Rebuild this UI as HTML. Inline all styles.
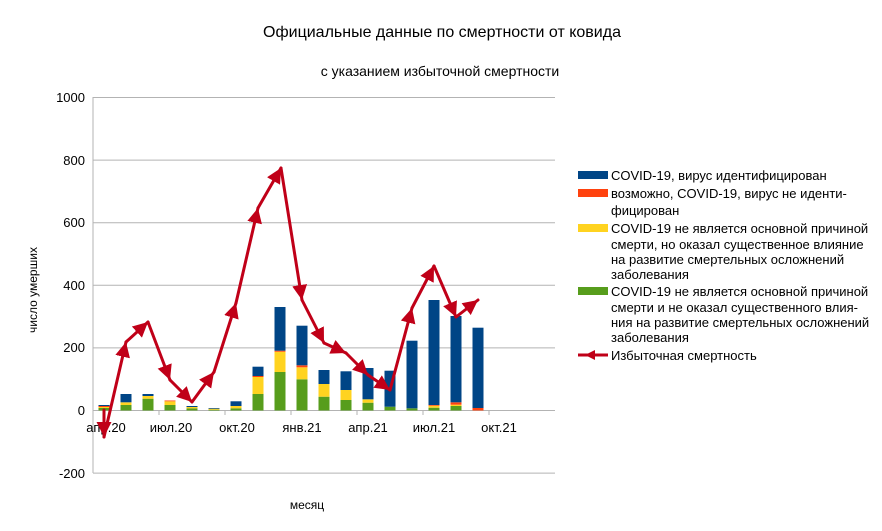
<!DOCTYPE html>
<html><head><meta charset="utf-8"><style>
body{margin:0;background:#fff;}
svg{display:block;font-family:"Liberation Sans",sans-serif;}
</style></head><body>
<svg width="882" height="531" viewBox="0 0 882 531" xmlns="http://www.w3.org/2000/svg">
<defs>
<marker id="a" viewBox="0 0 10 10" refX="10" refY="5" markerWidth="5" markerHeight="5" orient="auto" markerUnits="strokeWidth">
<path d="M0,0 L10,5 L0,10 z" fill="#c00018"/></marker>
</defs>
<rect width="882" height="531" fill="#fff"/>
<text x="442" y="37" font-size="16" text-anchor="middle" fill="#000">Официальные данные по смертности от ковида</text>
<text x="440" y="76" font-size="14" text-anchor="middle" fill="#000">с указанием избыточной смертности</text>
<g stroke="#b3b3b3" stroke-width="1">
<line x1="93" y1="97.5" x2="555" y2="97.5"/>
<line x1="93" y1="160.1" x2="555" y2="160.1"/>
<line x1="93" y1="222.7" x2="555" y2="222.7"/>
<line x1="93" y1="285.3" x2="555" y2="285.3"/>
<line x1="93" y1="347.9" x2="555" y2="347.9"/>
<line x1="93" y1="410.5" x2="555" y2="410.5"/>
<line x1="93" y1="473.1" x2="555" y2="473.1"/>
<line x1="93" y1="97" x2="93" y2="473"/>
<line x1="159" y1="410" x2="159" y2="415"/>
<line x1="225" y1="410" x2="225" y2="415"/>
<line x1="291" y1="410" x2="291" y2="415"/>
<line x1="357" y1="410" x2="357" y2="415"/>
<line x1="423" y1="410" x2="423" y2="415"/>
<line x1="489" y1="410" x2="489" y2="415"/>
</g>
<g font-size="13" fill="#000" text-anchor="end">
<text x="85" y="102">1000</text><text x="85" y="165">800</text><text x="85" y="227">600</text>
<text x="85" y="290">400</text><text x="85" y="352">200</text><text x="85" y="415">0</text><text x="85" y="478">-200</text>
</g>
<g font-size="13" fill="#000" text-anchor="middle">
<text x="106" y="432">апр.20</text><text x="171" y="432">июл.20</text><text x="237" y="432">окт.20</text>
<text x="302" y="432">янв.21</text><text x="368" y="432">апр.21</text><text x="434" y="432">июл.21</text><text x="499" y="432">окт.21</text>
<text x="307" y="509" font-size="12">месяц</text>
</g>
<text transform="translate(37,290) rotate(-90)" font-size="12" text-anchor="middle">число умерших</text>
<g>
<rect x="98.5" y="408" width="11" height="2.5" fill="#579d1c"/><rect x="98.5" y="407" width="11" height="1" fill="#ffd320"/><rect x="98.5" y="406" width="11" height="1" fill="#ff420e"/><rect x="98.5" y="405" width="11" height="1" fill="#004586"/>
<rect x="120.5" y="405" width="11" height="5.5" fill="#579d1c"/><rect x="120.5" y="402.3" width="11" height="2.7" fill="#ffd320"/><rect x="120.5" y="394" width="11" height="8.3" fill="#004586"/>
<rect x="142.5" y="398.7" width="11" height="11.8" fill="#579d1c"/><rect x="142.5" y="396" width="11" height="2.7" fill="#ffd320"/><rect x="142.5" y="394" width="11" height="2" fill="#004586"/>
<rect x="164.5" y="405" width="11" height="5.5" fill="#579d1c"/><rect x="164.5" y="401.3" width="11" height="3.7" fill="#ffd320"/><rect x="164.5" y="400.5" width="11" height="0.8" fill="#ff420e"/>
<rect x="186.5" y="408.3" width="11" height="2.2" fill="#579d1c"/><rect x="186.5" y="407" width="11" height="1.3" fill="#ffd320"/><rect x="186.5" y="406" width="11" height="1" fill="#004586"/>
<rect x="208.5" y="409.7" width="11" height="0.8" fill="#579d1c"/><rect x="208.5" y="408.7" width="11" height="1" fill="#ffd320"/><rect x="208.5" y="408" width="11" height="0.7" fill="#004586"/>
<rect x="230.5" y="408.3" width="11" height="2.2" fill="#579d1c"/><rect x="230.5" y="406" width="11" height="2.3" fill="#ffd320"/><rect x="230.5" y="401.3" width="11" height="4.7" fill="#004586"/>
<rect x="252.5" y="394" width="11" height="16.5" fill="#579d1c"/><rect x="252.5" y="377" width="11" height="17" fill="#ffd320"/><rect x="252.5" y="376" width="11" height="1" fill="#ff420e"/><rect x="252.5" y="366.7" width="11" height="9.3" fill="#004586"/>
<rect x="274.5" y="372" width="11" height="38.5" fill="#579d1c"/><rect x="274.5" y="351.7" width="11" height="20.3" fill="#ffd320"/><rect x="274.5" y="350.7" width="11" height="1" fill="#ff420e"/><rect x="274.5" y="307" width="11" height="43.7" fill="#004586"/>
<rect x="296.5" y="379.3" width="11" height="31.2" fill="#579d1c"/><rect x="296.5" y="367.3" width="11" height="12" fill="#ffd320"/><rect x="296.5" y="365.3" width="11" height="2" fill="#ff420e"/><rect x="296.5" y="325.7" width="11" height="39.6" fill="#004586"/>
<rect x="318.5" y="396.7" width="11" height="13.8" fill="#579d1c"/><rect x="318.5" y="384" width="11" height="12.7" fill="#ffd320"/><rect x="318.5" y="370" width="11" height="14" fill="#004586"/>
<rect x="340.5" y="400" width="11" height="10.5" fill="#579d1c"/><rect x="340.5" y="390" width="11" height="10" fill="#ffd320"/><rect x="340.5" y="371.3" width="11" height="18.7" fill="#004586"/>
<rect x="362.5" y="402.7" width="11" height="7.8" fill="#579d1c"/><rect x="362.5" y="399.3" width="11" height="3.4" fill="#ffd320"/><rect x="362.5" y="368" width="11" height="31.3" fill="#004586"/>
<rect x="384.5" y="406.7" width="11" height="3.8" fill="#579d1c"/><rect x="384.5" y="370.7" width="11" height="36" fill="#004586"/>
<rect x="406.5" y="408.3" width="11" height="2.2" fill="#579d1c"/><rect x="406.5" y="340.7" width="11" height="67.6" fill="#004586"/>
<rect x="428.5" y="407.7" width="11" height="2.8" fill="#579d1c"/><rect x="428.5" y="405.7" width="11" height="2" fill="#ffd320"/><rect x="428.5" y="405" width="11" height="0.7" fill="#ff420e"/><rect x="428.5" y="300" width="11" height="105" fill="#004586"/>
<rect x="450.5" y="406" width="11" height="4.5" fill="#579d1c"/><rect x="450.5" y="404.7" width="11" height="1.3" fill="#ffd320"/><rect x="450.5" y="402.3" width="11" height="2.4" fill="#ff420e"/><rect x="450.5" y="316" width="11" height="86.3" fill="#004586"/>
<rect x="472.5" y="408" width="11" height="2.5" fill="#ff420e"/><rect x="472.5" y="327.7" width="11" height="80.3" fill="#004586"/>
</g>
<g stroke="#c00018" stroke-width="3" stroke-linecap="round" marker-end="url(#a)">
<line x1="104" y1="410" x2="104" y2="437"/>
<line x1="104" y1="437" x2="126" y2="342"/>
<line x1="126" y1="342" x2="148" y2="322"/>
<line x1="148" y1="322" x2="170" y2="380"/>
<line x1="170" y1="380" x2="192" y2="402"/>
<line x1="192" y1="402" x2="214" y2="372"/>
<line x1="214" y1="372" x2="236" y2="303"/>
<line x1="236" y1="303" x2="258" y2="208"/>
<line x1="258" y1="208" x2="281" y2="168"/>
<line x1="281" y1="168" x2="302" y2="300"/>
<line x1="302" y1="300" x2="324" y2="343"/>
<line x1="324" y1="343" x2="346" y2="353"/>
<line x1="346" y1="353" x2="368" y2="375"/>
<line x1="368" y1="375" x2="390" y2="390"/>
<line x1="390" y1="390" x2="412" y2="308"/>
<line x1="412" y1="308" x2="434" y2="266"/>
<line x1="434" y1="266" x2="456" y2="317"/>
<line x1="456" y1="317" x2="478" y2="300"/>
</g>
<g font-size="13" fill="#000">
<rect x="578" y="171" width="30" height="8" fill="#004586"/>
<text x="611" y="180">COVID-19, вирус идентифицирован</text>
<rect x="578" y="189" width="30" height="8" fill="#ff420e"/>
<text x="611" y="198">возможно, COVID-19, вирус не иденти-</text>
<text x="611" y="215">фицирован</text>
<rect x="578" y="224" width="30" height="8" fill="#ffd320"/>
<text x="611" y="233">COVID-19 не является основной причиной</text>
<text x="611" y="249">смерти, но оказал существенное влияние</text>
<text x="611" y="264">на развитие смертельных осложнений</text>
<text x="611" y="279">заболевания</text>
<rect x="578" y="287" width="30" height="8" fill="#579d1c"/>
<text x="611" y="296">COVID-19 не является основной причиной</text>
<text x="611" y="312">смерти и не оказал существенного влия-</text>
<text x="611" y="327">ния на развитие смертельных осложнений</text>
<text x="611" y="342">заболевания</text>
<line x1="578" y1="355" x2="608" y2="355" stroke="#c00018" stroke-width="3"/>
<path d="M585,355 L595,350 L595,360 z" fill="#c00018"/>
<text x="611" y="360">Избыточная смертность</text>
</g>
</svg>
</body></html>
